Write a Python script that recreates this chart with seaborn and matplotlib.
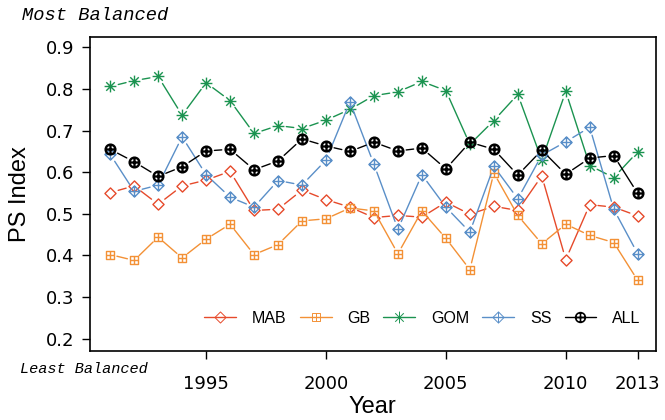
import matplotlib
matplotlib.use("Agg")
import numpy as np
import pandas as pd
import seaborn as sns
import matplotlib.pyplot as plt
from matplotlib.path import Path
from matplotlib.lines import Line2D

years = list(range(1991, 2014))
mab = [0.551, 0.567, 0.523, 0.567, 0.581, 0.602, 0.508, 0.511, 0.557, 0.534, 0.516, 0.491,
       0.496, 0.492, 0.528, 0.499, 0.518, 0.508, 0.591, 0.390, 0.522, 0.516, 0.495]
gb = [0.402, 0.388, 0.444, 0.394, 0.439, 0.475, 0.402, 0.426, 0.483, 0.488, 0.514, 0.507,
      0.404, 0.507, 0.441, 0.366, 0.598, 0.496, 0.428, 0.475, 0.448, 0.431, 0.340]
gom = [0.806, 0.820, 0.830, 0.737, 0.815, 0.772, 0.693, 0.712, 0.705, 0.725, 0.751, 0.784,
       0.793, 0.818, 0.796, 0.667, 0.724, 0.787, 0.629, 0.794, 0.616, 0.587, 0.649]
ss = [0.643, 0.554, 0.569, 0.685, 0.594, 0.540, 0.516, 0.580, 0.569, 0.629, 0.769, 0.619,
      0.463, 0.594, 0.516, 0.456, 0.614, 0.536, 0.641, 0.673, 0.708, 0.511, 0.404]
all_ = [0.655, 0.625, 0.590, 0.613, 0.651, 0.655, 0.606, 0.627, 0.680, 0.663, 0.650, 0.672,
        0.651, 0.658, 0.608, 0.672, 0.655, 0.593, 0.653, 0.595, 0.634, 0.640, 0.549]

regions = ["MAB", "GB", "GOM", "SS", "ALL"]
series = {"MAB": mab, "GB": gb, "GOM": gom, "SS": ss, "ALL": all_}
x_ticks = [1995, 2000, 2005, 2010, 2013]
y_ticks = [0.2, 0.3, 0.4, 0.5, 0.6, 0.7, 0.8, 0.9]

df = pd.DataFrame([(r, y, v) for r in regions for y, v in zip(years, series[r])],
                  columns=["Region", "Year", "PS"])

# marker shapes
M, L, C = Path.MOVETO, Path.LINETO, Path.CLOSEPOLY
diamond = Path([(0, -1), (1, 0), (0, 1), (-1, 0), (0, -1)], [M, L, L, L, C])
cross = Path([(0, -1), (0, 1), (-1, 0), (1, 0)], [M, L, M, L])
square = Path([(-1, -1), (1, -1), (1, 1), (-1, 1), (-1, -1)], [M, L, L, L, C])
d = 0.72
xcross = Path([(-d, -d), (d, d), (-d, d), (d, -d)], [M, L, M, L])
diamond_plus = Path.make_compound_path(diamond, cross)
square_plus = Path.make_compound_path(square, cross)
asterisk = Path.make_compound_path(cross, xcross)
circle_plus = Path.make_compound_path(Path.unit_circle(), cross)

colors = {"MAB": "#E64A2B", "GB": "#F39136", "GOM": "#1B9350", "SS": "#5A8FC8", "ALL": "#000000"}
markers = {"MAB": diamond, "GB": square_plus, "GOM": asterisk, "SS": diamond_plus, "ALL": circle_plus}
msizes = {"MAB": 8, "GB": 6.2, "GOM": 8.5, "SS": 8, "ALL": 7}
mews = {"MAB": 1.0, "GB": 1.0, "GOM": 1.0, "SS": 1.0, "ALL": 1.7}
shrink = {"MAB": 6, "GB": 5, "GOM": 6, "SS": 6, "ALL": 6}

sns.set_theme(style="ticks")
plt.rcParams["font.family"] = ["Liberation Sans", "DejaVu Sans"]

fig, ax = plt.subplots(figsize=(6.65, 4.2), dpi=100)
fig.subplots_adjust(left=0.135, right=0.986, top=0.912, bottom=0.164)

for k, r in enumerate(regions):
    sub = df[df["Region"] == r]
    c = colors[r]
    xs = sub["Year"].tolist()
    ys = sub["PS"].tolist()
    z = 3 + 2 * k
    for i in range(len(xs) - 1):
        ax.annotate("", xy=(xs[i + 1], ys[i + 1]), xytext=(xs[i], ys[i]),
                    xycoords="data", textcoords="data",
                    arrowprops=dict(arrowstyle="-", color=c, lw=1.0,
                                    shrinkA=shrink[r], shrinkB=shrink[r]),
                    zorder=z)
    sns.lineplot(data=sub, x="Year", y="PS", ax=ax, color=c, linestyle="none",
                 marker=markers[r], markersize=msizes[r], markerfacecolor="none",
                 markeredgecolor=c, markeredgewidth=mews[r], legend=False, zorder=z + 1)

ax.set_xlim(1990.15, 2013.75)
ax.set_ylim(0.17, 0.925)
ax.set_xticks(x_ticks)
ax.set_xticklabels([str(t) for t in x_ticks])
ax.set_yticks(y_ticks)
ax.set_yticklabels([f"{t:.1f}" for t in y_ticks])
ax.tick_params(axis="both", labelsize=13, length=6, width=1, color="black", labelcolor="black")
ax.tick_params(axis="x", pad=11)
ax.tick_params(axis="y", pad=5)
for lab in ax.get_xticklabels() + ax.get_yticklabels():
    lab.set_fontfamily("DejaVu Sans")
for s in ax.spines.values():
    s.set_color("black")
    s.set_linewidth(1.2)

ax.set_xlabel("Year", fontsize=17, labelpad=2, color="black")
ax.set_ylabel("PS Index", fontsize=17, labelpad=11, color="black")

handles = [Line2D([0], [0], color=colors[r], lw=1.0, marker=markers[r], markersize=msizes[r],
                  markerfacecolor="none", markeredgecolor=colors[r], markeredgewidth=mews[r] * 0.7)
           for r in regions]
ax.legend(handles, regions, loc="center", bbox_to_anchor=(0.588, 0.105), ncol=5,
          frameon=False, fontsize=11.5, handlelength=2.0, handletextpad=1.0,
          columnspacing=0.8, labelcolor="black")

fig.text(22 / 665, 1 - 16 / 420, "Most Balanced", family="Liberation Mono", style="italic",
         fontsize=13.5, va="center", ha="left", color="black")
fig.text(20 / 665, 1 - 369 / 420, "Least Balanced", family="Liberation Mono", style="italic",
         fontsize=11, va="center", ha="left", color="black")

fig.savefig("out.png", dpi=100)
